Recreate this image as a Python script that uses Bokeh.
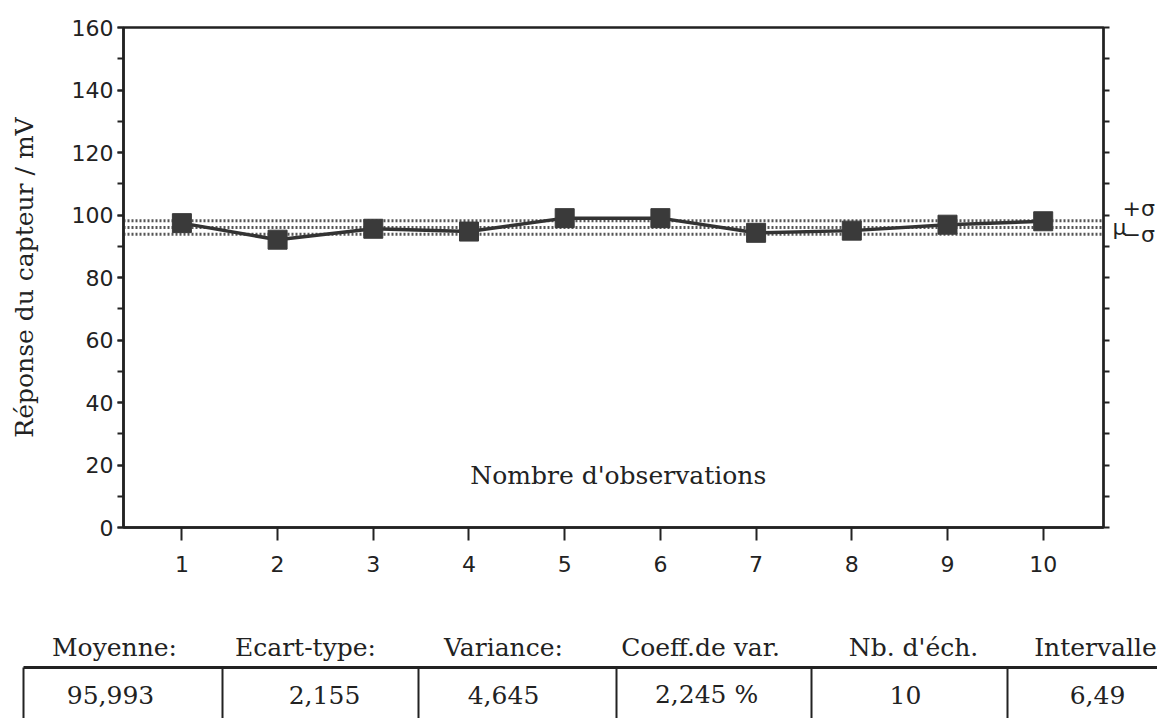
from bokeh.plotting import figure
from bokeh.models import (Range1d, LinearAxis, SingleIntervalTicker, FixedTicker,
                          Span, Label, CustomJSTickFormatter)
from bokeh.layouts import row
from bokeh.embed import file_html
from bokeh.resources import INLINE
from bokeh.core.properties import value

# ---------------- data ----------------
observations = [1, 2, 3, 4, 5, 6, 7, 8, 9, 10]
response_mV = [97.4, 92.1, 95.6, 94.7, 99.0, 99.0, 94.3, 95.0, 96.9, 98.0]
x_ticks = [1, 2, 3, 4, 5, 6, 7, 8, 9, 10]

mean_value = 95.993
std_value = 2.155
variance_value = 4.645
cv_value = 2.245
n_samples = 10
interval_value = 6.49

stat_headers = ["Moyenne:", "Ecart-type:", "Variance:", "Coeff.de var.", "Nb. d'éch.", "Intervalle"]
sigma_labels = ["μ", "+σ", "−σ"]


def fr(v, nd):
    return f"{v:.{nd}f}".replace(".", ",")


stat_values = [fr(mean_value, 3), fr(std_value, 3), fr(variance_value, 3),
               fr(cv_value, 3) + "  %", str(n_samples), fr(interval_value, 2)]

SERIF = "DejaVu Serif"
SANS = "DejaVu Sans"
INK = "#222222"

# ---------------- chart ----------------
p = figure(width=1110, height=582,
           x_range=Range1d(0.39, 10.63), y_range=Range1d(0, 160),
           x_axis_type=None, y_axis_type=None,
           output_backend="svg", toolbar_location=None,
           min_border_left=123, min_border_right=7,
           min_border_top=27, min_border_bottom=55)
p.background_fill_color = "white"
p.border_fill_color = "white"
p.outline_line_color = INK
p.outline_line_width = 2.5

yaxis = LinearAxis(ticker=SingleIntervalTicker(interval=20, num_minor_ticks=2))
yaxis.axis_label = "Réponse du capteur / mV"
yaxis.axis_label_text_font = SERIF
yaxis.axis_label_text_font_size = "25px"
yaxis.axis_label_text_font_style = "normal"
yaxis.axis_label_text_color = INK
yaxis.axis_label_standoff = 30
yaxis.major_label_text_font = SANS
yaxis.major_label_text_font_size = "22px"
yaxis.major_label_text_color = INK
yaxis.major_label_standoff = 4
yaxis.major_tick_out = 6
yaxis.major_tick_in = 0
yaxis.minor_tick_out = 6
yaxis.minor_tick_in = 0
yaxis.axis_line_width = 2.5
yaxis.axis_line_color = INK
yaxis.major_tick_line_width = 2
yaxis.minor_tick_line_width = 2
yaxis.major_tick_line_color = INK
yaxis.minor_tick_line_color = INK
p.add_layout(yaxis, "left")

xaxis = LinearAxis(ticker=FixedTicker(ticks=x_ticks))
xaxis.major_label_text_font = SANS
xaxis.major_label_text_font_size = "22px"
xaxis.major_label_text_color = INK
xaxis.major_label_standoff = 15
xaxis.major_tick_out = 13
xaxis.major_tick_in = 0
xaxis.minor_tick_out = 0
xaxis.minor_tick_in = 0
xaxis.axis_line_width = 2.5
xaxis.axis_line_color = INK
xaxis.major_tick_line_width = 2
xaxis.major_tick_line_color = INK
p.add_layout(xaxis, "below")

raxis = LinearAxis(ticker=SingleIntervalTicker(interval=10, num_minor_ticks=0),
                   formatter=CustomJSTickFormatter(code="return ''"))
raxis.major_tick_out = 6
raxis.major_tick_in = 0
raxis.minor_tick_out = 0
raxis.minor_tick_in = 0
raxis.major_label_standoff = 0
raxis.axis_line_width = 2
raxis.axis_line_color = INK
raxis.major_tick_line_width = 2
raxis.major_tick_line_color = INK
p.add_layout(raxis, "right")

# mean and +/- sigma dotted lines
for loc in (mean_value + std_value, mean_value, mean_value - std_value):
    p.add_layout(Span(location=loc, dimension="width", line_color="#555555",
                      line_width=3, line_dash="2 2", level="underlay"))

p.line(observations, response_mV, line_color="#333333", line_width=3.5)
p.scatter(observations, response_mV, marker="square", size=19,
          fill_color="#3a3a3a", line_color="#3a3a3a")

p.add_layout(Label(x=5.56, y=16.6, text="Nombre d'observations",
                   text_font=SERIF, text_font_size="25px", text_color=INK,
                   text_align="center", text_baseline="alphabetic"))

# ---------------- mu / sigma labels at the right ----------------
side = figure(width=47, height=582, x_range=Range1d(0, 47), y_range=p.y_range,
              x_axis_type=None, y_axis_type=None,
              output_backend="svg", toolbar_location=None,
              min_border_left=0, min_border_right=0,
              min_border_top=27, min_border_bottom=55)
side.outline_line_color = None
side.background_fill_color = "white"
side.border_fill_color = "white"
side.text(x=[2], y=[mean_value], text=[sigma_labels[0]], text_font=value(SANS),
          text_font_size="22px", text_color=INK, text_align="left",
          text_baseline="middle")
side.text(x=[12], y=[mean_value + std_value], text=[sigma_labels[1]], text_font=value(SANS),
          text_font_size="22px", text_color=INK, text_align="left",
          text_baseline="bottom")
side.text(x=[12], y=[mean_value - std_value], text=[sigma_labels[2]], text_font=value(SANS),
          text_font_size="22px", text_color=INK, text_align="left",
          text_baseline="middle")

# ---------------- statistics table ----------------
t = figure(width=1157, height=136, x_range=Range1d(0, 1157), y_range=Range1d(136, 0),
           x_axis_type=None, y_axis_type=None,
           output_backend="svg", toolbar_location=None, min_border=0)
t.outline_line_color = None
t.background_fill_color = "white"
t.border_fill_color = "white"

col_edges = [23, 222, 418, 616, 811, 1007]
header_x = [114, 305, 503, 700, 913, 1095]
value_x = [110, 324, 503, 710, 905, 1097]
header_y = [65] * 6
value_y = [112] * 6
line_top = 85

t.segment(x0=[col_edges[0]], y0=[line_top], x1=[1157], y1=[line_top],
          line_color=INK, line_width=3)
t.segment(x0=col_edges, y0=[line_top] * len(col_edges), x1=col_edges,
          y1=[136] * len(col_edges), line_color=INK, line_width=2)

t.text(x=header_x, y=header_y, text=stat_headers, text_font=value(SERIF),
       text_font_size="25px", text_color=INK, text_align="center",
       text_baseline="alphabetic")
t.text(x=value_x, y=value_y, text=stat_values, text_font=value(SERIF),
       text_font_size="25px", text_color=INK, text_align="center",
       text_baseline="alphabetic")

open("out.html", "w").write(file_html([row(p, side), t], INLINE))
